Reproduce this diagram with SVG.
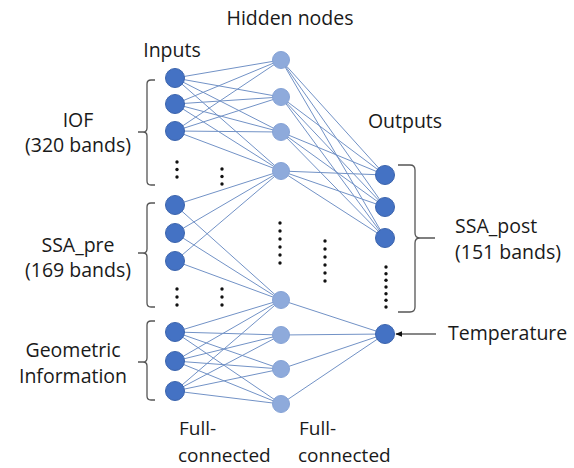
<svg xmlns="http://www.w3.org/2000/svg" width="574" height="468" viewBox="0 0 574 468">
<defs>
<style>
.t{font-family:"Open Sans","Noto Sans","Liberation Sans",sans-serif;font-size:19.5px;fill:#1a1a1a}
.s{font-size:19px}
.m{text-anchor:middle}
.c{stroke:#7292c6;stroke-width:1;fill:none}
.in{fill:#4472c4;stroke:#3b64ad;stroke-width:1}
.hd{fill:#8eaadb;stroke:#86a3d6;stroke-width:1}
.br{fill:none;stroke:#555;stroke-width:1.3}
.dot{fill:#111}
</style>
<marker id="ah" viewBox="0 0 10 10" refX="9" refY="5" markerWidth="7" markerHeight="7" orient="auto" markerUnits="userSpaceOnUse">
<path d="M0,1 L10,5 L0,9 z" fill="#111"/>
</marker>
</defs>
<rect width="574" height="468" fill="#fff"/>

<g id="connectors">
<path class="c" d="M175,78 L281,60 M175,78 L281,97 M175,78 L281,132 M175,78 L281,171
M175,104 L281,60 M175,104 L281,97 M175,104 L281,132 M175,104 L281,171
M175,131 L281,60 M175,131 L281,97 M175,131 L281,132 M175,131 L281,171"/>
<path class="c" d="M175,205 L281,171 M175,205 L281,300 M175,233 L281,171 M175,233 L281,300 M175,261 L281,171 M175,261 L281,300"/>
<path class="c" d="M175,332 L281,300 M175,332 L281,335 M175,332 L281,369 M175,332 L281,404
M175,361 L281,300 M175,361 L281,335 M175,361 L281,369 M175,361 L281,404
M175,391 L281,300 M175,391 L281,335 M175,391 L281,369 M175,391 L281,404"/>
<path class="c" d="M281,60 L385,175 M281,60 L385,207 M281,60 L385,238
M281,97 L385,175 M281,97 L385,207 M281,97 L385,238
M281,132 L385,175 M281,132 L385,207 M281,132 L385,238
M281,171 L385,175 M281,171 L385,207 M281,171 L385,238"/>
<path class="c" d="M281,300 L385,334 M281,335 L385,334 M281,369 L385,334 M281,404 L385,334"/>
<line x1="436" y1="334" x2="396" y2="334" stroke="#111" stroke-width="1.2" marker-end="url(#ah)"/>
</g>

<g id="input-nodes">
<circle class="in" cx="175" cy="78" r="9.5"/>
<circle class="in" cx="175" cy="104" r="9.5"/>
<circle class="in" cx="175" cy="131" r="9.5"/>
<circle class="in" cx="175" cy="205" r="9.5"/>
<circle class="in" cx="175" cy="233" r="9.5"/>
<circle class="in" cx="175" cy="261" r="9.5"/>
<circle class="in" cx="175" cy="332" r="9.5"/>
<circle class="in" cx="175" cy="361" r="9.5"/>
<circle class="in" cx="175" cy="391" r="9.5"/>
</g>

<g id="hidden-nodes">
<circle class="hd" cx="281" cy="60" r="8.5"/>
<circle class="hd" cx="281" cy="97" r="8.5"/>
<circle class="hd" cx="281" cy="132" r="8.5"/>
<circle class="hd" cx="281" cy="171" r="8.5"/>
<circle class="hd" cx="281" cy="300" r="8.5"/>
<circle class="hd" cx="281" cy="335" r="8.5"/>
<circle class="hd" cx="281" cy="369" r="8.5"/>
<circle class="hd" cx="281" cy="404" r="8.5"/>
</g>

<g id="output-nodes">
<circle class="in" cx="385" cy="175" r="9.5"/>
<circle class="in" cx="385" cy="207" r="9.5"/>
<circle class="in" cx="385" cy="238" r="9.5"/>
<circle class="in" cx="385" cy="334" r="9.5"/>
</g>

<g id="dots">
<circle class="dot" cx="177" cy="162" r="1.7"/><circle class="dot" cx="177" cy="169.5" r="1.7"/><circle class="dot" cx="177" cy="177" r="1.7"/>
<circle class="dot" cx="222" cy="169" r="1.7"/><circle class="dot" cx="222" cy="176.5" r="1.7"/><circle class="dot" cx="222" cy="184" r="1.7"/>
<circle class="dot" cx="177" cy="289" r="1.7"/><circle class="dot" cx="177" cy="297" r="1.7"/><circle class="dot" cx="177" cy="305" r="1.7"/>
<circle class="dot" cx="222" cy="289" r="1.7"/><circle class="dot" cx="222" cy="297" r="1.7"/><circle class="dot" cx="222" cy="305" r="1.7"/>
<circle class="dot" cx="280" cy="223" r="1.7"/><circle class="dot" cx="280" cy="231" r="1.7"/><circle class="dot" cx="280" cy="239" r="1.7"/><circle class="dot" cx="280" cy="247" r="1.7"/><circle class="dot" cx="280" cy="255" r="1.7"/><circle class="dot" cx="280" cy="263" r="1.7"/>
<circle class="dot" cx="325" cy="241" r="1.7"/><circle class="dot" cx="325" cy="249" r="1.7"/><circle class="dot" cx="325" cy="257" r="1.7"/><circle class="dot" cx="325" cy="265" r="1.7"/><circle class="dot" cx="325" cy="273" r="1.7"/><circle class="dot" cx="325" cy="281" r="1.7"/>
<circle class="dot" cx="386" cy="267" r="1.7"/><circle class="dot" cx="386" cy="273.7" r="1.7"/><circle class="dot" cx="386" cy="280.3" r="1.7"/><circle class="dot" cx="386" cy="287" r="1.7"/><circle class="dot" cx="386" cy="293.7" r="1.7"/><circle class="dot" cx="386" cy="300.3" r="1.7"/><circle class="dot" cx="386" cy="307" r="1.7"/>
</g>

<g id="brackets">
<path class="br" d="M155,80 L151,80 Q147,80 147,84 L147,128 Q147,132 143,132 L138,132 M143,132 Q147,132 147,136 L147,181 Q147,185 151,185 L155,185"/>
<path class="br" d="M155,203 L151,203 Q147,203 147,207 L147,249 Q147,253 143,253 L138,253 M143,253 Q147,253 147,257 L147,303 Q147,307 151,307 L155,307"/>
<path class="br" d="M155,321 L151,321 Q147,321 147,325 L147,358 Q147,362 143,362 L138,362 M143,362 Q147,362 147,366 L147,396 Q147,400 151,400 L155,400"/>
<path class="br" d="M398,165 L410,165 Q415,165 415,170 L415,233 Q415,238 420,238 L435,238 M420,238 Q415,238 415,243 L415,307 Q415,312 410,312 L398,312"/>
</g>

<g id="labels">
<text class="t m" x="290" y="25">Hidden nodes</text>
<text class="t m" x="172" y="57">Inputs</text>
<text class="t m" x="405" y="128">Outputs</text>
<text class="t m" x="78" y="127">IOF</text>
<text class="t m" x="78" y="152">(320 bands)</text>
<text class="t m" x="78" y="252">SSA_pre</text>
<text class="t m" x="78" y="277">(169 bands)</text>
<text class="t m" x="73" y="357">Geometric</text>
<text class="t m" x="73" y="383">Information</text>
<text class="t" x="455" y="233">SSA_post</text>
<text class="t" x="455" y="259">(151 bands)</text>
<text class="t" x="448" y="340">Temperature</text>
<text class="t s" x="179" y="435">Full-</text>
<text class="t s" x="178" y="462">connected</text>
<text class="t s" x="299" y="435">Full-</text>
<text class="t s" x="298" y="462">connected</text>
</g>
</svg>
